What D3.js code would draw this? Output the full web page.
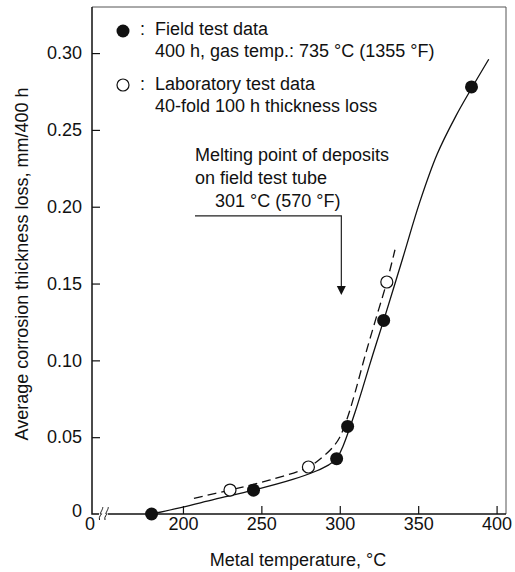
<!DOCTYPE html>
<html>
<head>
<meta charset="utf-8">
<script src="https://cdn.jsdelivr.net/npm/d3@7"></script>
<style>
  body { margin: 0; background: #fff; }
  svg text { font-family: "Liberation Sans", Arial, sans-serif; fill: #111; }
</style>
</head>
<body>
<svg id="chart"></svg>
<script>
// field test points (filled) and lab points (open), temp in °C, loss in mm/400 h
var fieldTemp = [180, 245, 298, 305, 328, 384];
var fieldLoss = [0, 0.0155, 0.036, 0.057, 0.126, 0.278];
var labTemp = [230, 280, 330];
var labLoss = [0.0156, 0.0306, 0.151];

// curves
var fieldCurveTemp = [180, 200, 220, 245, 270, 285, 293, 298, 302, 306, 310, 314, 321, 328, 340, 351, 362, 374, 384, 395];
var fieldCurveLoss = [0, 0.0045, 0.0095, 0.0155, 0.0225, 0.028, 0.032, 0.036, 0.044, 0.055, 0.067, 0.08, 0.1035, 0.126, 0.166, 0.203, 0.234, 0.259, 0.277, 0.296];
var labCurveTemp = [207, 230, 255, 280, 290, 296, 300, 305, 310, 316, 323, 330, 335.2];
var labCurveLoss = [0.0102, 0.0156, 0.022, 0.0306, 0.038, 0.044, 0.05, 0.063, 0.08, 0.1025, 0.127, 0.151, 0.172];

var xTicks = [200, 250, 300, 350, 400];
var xBreakLabel = "0";
var yTicks = [0, 0.05, 0.10, 0.15, 0.20, 0.25, 0.30];

var meltTemp = 301;
var meltFrom = 0.194, meltTo = 0.1425;

var svgWidth = 515, svgHeight = 572;
var plotL = 92, plotT = 7, plotR = 506, plotB = 514;

var svg = d3.select("#chart").attr("width", svgWidth).attr("height", svgHeight);

var x = d3.scaleLinear().domain([142, 406]).range([plotL, plotR]);
var y = d3.scaleLinear().domain([0, 0.33]).range([plotB, plotT]);

// frame top/right
svg.append("path")
  .attr("d", "M" + plotL + "," + plotT + "H" + plotR + "V" + plotB)
  .attr("fill", "none").attr("stroke", "#555").attr("stroke-width", 1);

// y axis
var yAxis = svg.append("g")
  .attr("transform", "translate(" + plotL + ",0)")
  .call(d3.axisLeft(y).tickValues(yTicks).tickSize(-8).tickPadding(10)
    .tickFormat(function(d) { return d === 0 ? "0" : d3.format(".2f")(d); }));
yAxis.select(".domain").remove();
yAxis.selectAll("line").attr("stroke", "#111").attr("stroke-width", 1.2);
yAxis.selectAll("text").attr("font-size", 18);
yAxis.selectAll(".tick").filter(function(d) { return d === 0; }).select("text").attr("dy", "0.15em");
yAxis.selectAll(".tick").filter(function(d) { return d === 0; }).select("line").remove();

// x axis
var xAxis = svg.append("g")
  .attr("transform", "translate(0," + plotB + ")")
  .call(d3.axisBottom(x).tickValues(xTicks).tickSize(-8).tickPadding(3));
xAxis.select(".domain").remove();
xAxis.selectAll("line").attr("stroke", "#111").attr("stroke-width", 1.2);
xAxis.selectAll("text").attr("font-size", 18);
xAxis.append("text")
  .attr("x", plotL - 2).attr("y", 3).attr("dy", "0.71em")
  .attr("text-anchor", "middle").attr("font-size", 18)
  .text(xBreakLabel);

// axis lines with break
svg.append("path")
  .attr("d", "M" + plotL + "," + plotT + "V" + plotB + "H" + 99)
  .attr("fill", "none").attr("stroke", "#111").attr("stroke-width", 1.5);
svg.append("path")
  .attr("d", "M" + 108 + "," + plotB + "H" + plotR)
  .attr("fill", "none").attr("stroke", "#111").attr("stroke-width", 1.5);
[101, 106.5].forEach(function(bx) {
  svg.append("path")
    .attr("d", "M" + (bx - 1.5) + "," + (plotB + 6) +
      " C" + (bx - 3) + "," + (plotB + 2) + " " + (bx + 2.5) + "," + (plotB - 1) + " " + bx + "," + plotB +
      " S" + (bx + 3) + "," + (plotB - 6) + " " + (bx + 1.5) + "," + (plotB - 7))
    .attr("fill", "none").attr("stroke", "#111").attr("stroke-width", 1);
});

// curves
var line = d3.line()
  .x(function(d) { return x(d[0]); })
  .y(function(d) { return y(d[1]); })
  .curve(d3.curveCatmullRom.alpha(0.5));

svg.append("path")
  .datum(d3.zip(fieldCurveTemp, fieldCurveLoss))
  .attr("d", line)
  .attr("fill", "none").attr("stroke", "#111").attr("stroke-width", 1.3);

svg.append("path")
  .datum(d3.zip(labCurveTemp, labCurveLoss))
  .attr("d", line)
  .attr("fill", "none").attr("stroke", "#111").attr("stroke-width", 1.3)
  .attr("stroke-dasharray", "9,5");

// points
svg.selectAll(".field")
  .data(d3.zip(fieldTemp, fieldLoss))
  .enter().append("circle")
  .attr("class", "field")
  .attr("cx", function(d) { return x(d[0]); })
  .attr("cy", function(d) { return y(d[1]); })
  .attr("r", 6.5)
  .attr("fill", "#111");

svg.selectAll(".lab")
  .data(d3.zip(labTemp, labLoss))
  .enter().append("circle")
  .attr("class", "lab")
  .attr("cx", function(d) { return x(d[0]); })
  .attr("cy", function(d) { return y(d[1]); })
  .attr("r", 6)
  .attr("fill", "#fff").attr("stroke", "#111").attr("stroke-width", 1.2);

// legend
svg.append("circle").attr("cx", 123).attr("cy", 31).attr("r", 6.5).attr("fill", "#111");
svg.append("circle").attr("cx", 123).attr("cy", 85).attr("r", 6).attr("fill", "#fff")
  .attr("stroke", "#111").attr("stroke-width", 1.2);
var legendLines = [
  [140, 35, ":"], [155, 35, "Field test data"], [155, 57, "400 h, gas temp.: 735 °C (1355 °F)"],
  [140, 90, ":"], [155, 90, "Laboratory test data"], [155, 112, "40-fold 100 h thickness loss"]
];
svg.selectAll(".leg")
  .data(legendLines)
  .enter().append("text")
  .attr("class", "leg")
  .attr("x", function(d) { return d[0]; })
  .attr("y", function(d) { return d[1]; })
  .attr("font-size", 18)
  .text(function(d) { return d[2]; });

// melting point annotation
var noteLines = [[195, 161, "Melting point of deposits"], [195, 184, "on field test tube"], [215, 207, "301 °C (570 °F)"]];
svg.selectAll(".note")
  .data(noteLines)
  .enter().append("text")
  .attr("class", "note")
  .attr("x", function(d) { return d[0]; })
  .attr("y", function(d) { return d[1]; })
  .attr("font-size", 18)
  .text(function(d) { return d[2]; });

var ax = x(meltTemp);
svg.append("path")
  .attr("d", "M195," + y(meltFrom) + "H" + ax + "V" + (y(meltTo) - 8))
  .attr("fill", "none").attr("stroke", "#222").attr("stroke-width", 1.2);
svg.append("path")
  .attr("d", "M" + (ax - 4.5) + "," + (y(meltTo) - 9) + "L" + (ax + 4.5) + "," + (y(meltTo) - 9) + "L" + ax + "," + y(meltTo) + "Z")
  .attr("fill", "#111");

// axis titles
svg.append("text")
  .attr("x", 298).attr("y", 566)
  .attr("text-anchor", "middle").attr("font-size", 18)
  .text("Metal temperature, °C");

svg.append("text")
  .attr("transform", "translate(28,264) rotate(-90)")
  .attr("text-anchor", "middle").attr("font-size", 18)
  .text("Average corrosion thickness loss, mm/400 h");
</script>
</body>
</html>
